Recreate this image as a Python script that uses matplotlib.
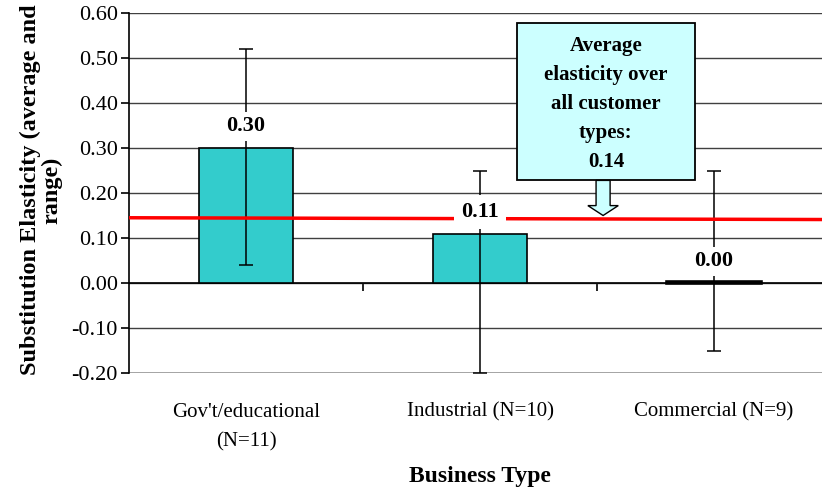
import matplotlib
matplotlib.use("Agg")
import matplotlib.pyplot as plt
from matplotlib.patches import Rectangle, FancyArrow

categories = ["Gov't/educational\n(N=11)", "Industrial (N=10)", "Commercial (N=9)"]
averages = [0.30, 0.11, 0.00]
range_low = [0.04, -0.20, -0.15]
range_high = [0.52, 0.25, 0.25]
value_labels = ["0.30", "0.11", "0.00"]
overall_avg = 0.14
avg_line_x = [0, 3]
avg_line_y = [0.145, 0.141]
yticks = [-0.2, -0.1, 0.0, 0.1, 0.2, 0.3, 0.4, 0.5, 0.6]

plt.rcParams['font.family'] = ['Liberation Serif', 'DejaVu Serif']

fig = plt.figure(figsize=(8.22, 4.88), dpi=100)
ax = fig.add_axes([129 / 822, 1 - 373 / 488, 702 / 822, 360 / 488])

x = [0.5, 1.5, 2.5]
heights = [h if h != 0 else 0.003 for h in averages]
yerr = [[a - lo for a, lo in zip(averages, range_low)],
        [hi - a for a, hi in zip(averages, range_high)]]
ax.bar(x, heights, width=0.4, color='#33CCCC', edgecolor='black',
       linewidth=[1.2, 1.2, 2.6], zorder=3)
ax.errorbar(x, averages, yerr=yerr, fmt='none', ecolor='black', elinewidth=1.1,
            capsize=5, capthick=1.1, zorder=4)

# average line
ax.plot(avg_line_x, avg_line_y, color='#FF0000', linewidth=2.5, zorder=5)

# value labels sit on white so lines behind them are hidden
for xi, v, lab in zip(x, averages, value_labels):
    pad = 5 if lab == "0.11" else 3
    ax.text(xi, v + 0.048, lab, ha='center', va='center', fontsize=16,
            fontweight='bold', zorder=6,
            bbox=dict(facecolor='white', edgecolor='none', pad=pad))

# callout box
ax.add_patch(Rectangle((1.658, 0.228), 0.761, 0.349, facecolor='#CCFFFF',
                       edgecolor='black', linewidth=1.3, zorder=7))
ax.text(2.038, 0.397, "Average\nelasticity over\nall customer\ntypes:\n%.2f" % overall_avg,
        ha='center', va='center', fontsize=15, fontweight='bold',
        linespacing=1.6, zorder=8)
ax.add_patch(FancyArrow(2.026, 0.228, 0, -0.078, width=0.06, head_width=0.13,
                        head_length=0.022, length_includes_head=True,
                        facecolor='#CCFFFF', edgecolor='black', linewidth=1.0, zorder=7))

ax.set_xlim(0, 3)
ax.set_ylim(-0.2, 0.6)
ax.set_yticks(yticks)
ax.set_yticklabels(["%.2f" % t for t in yticks], fontsize=16)
ax.yaxis.grid(True, color='#404040', linewidth=1.0, zorder=0)
ax.set_axisbelow(True)

for s in ['top', 'right']:
    ax.spines[s].set_visible(False)
ax.spines['left'].set_linewidth(1.2)
ax.spines['bottom'].set_position(('data', 0))
ax.spines['bottom'].set_linewidth(1.2)
ax.tick_params(axis='y', direction='out', length=6, width=1.2, pad=2)
ax.set_xticks([1, 2])
ax.set_xticklabels([])
ax.tick_params(axis='x', direction='out', length=6, width=1.2)
ax.axhline(-0.2, color='#A0A0A0', linewidth=2, zorder=1)

for xi, c in zip(x, categories):
    ax.text(xi, -0.266, c, ha='center', va='top', fontsize=15, linespacing=1.75)

ax.text(1.5, -0.43, "Business Type", ha='center', va='center', fontsize=17,
        fontweight='bold')
fig.text(41 / 822, 1 - 190 / 488, "Substitution Elasticity (average and\nrange)",
         rotation=90, ha='center', va='center', fontsize=17.5,
         fontweight='bold', linespacing=1.0)

fig.savefig("out.png", dpi=100)
